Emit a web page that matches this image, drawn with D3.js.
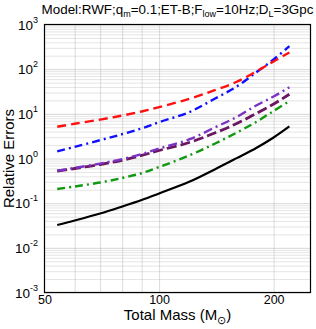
<!DOCTYPE html>
<html>
<head>
<meta charset="utf-8">
<script src="https://cdn.jsdelivr.net/npm/d3@7"></script>
<style>
  body { margin: 0; background: #fff; }
  svg { display: block; font-family: "Liberation Sans", Arial, sans-serif; }
</style>
</head>
<body>
<div id="chart"></div>
<script>
var width = 316,
    height = 329;

// total mass (solar masses) at which the curves were read
var mass = [54, 60, 70, 80, 90, 100, 120, 140, 160, 180, 200, 220];

var redErr    = [5.13, 6.01, 7.43, 9.14, 11.3, 14.1, 21.7, 33.8, 52.2, 88.7, 149, 236];
var blueErr   = [1.44, 1.82, 2.57, 3.50, 4.72, 6.50, 10.9, 21.8, 40.7, 84.7, 165, 327];
var violetErr = [0.531, 0.616, 0.769, 0.97, 1.26, 1.67, 2.67, 4.94, 8.5, 15.4, 24.4, 39.5];
var plumErr   = [0.525, 0.597, 0.734, 0.912, 1.17, 1.51, 2.28, 3.72, 6.08, 10.2, 16.6, 27.5];
var greenErr  = [0.208, 0.236, 0.290, 0.366, 0.468, 0.645, 1.17, 2.14, 3.8, 6.57, 11.6, 19.2];
var blackErr  = [0.0325, 0.0409, 0.0587, 0.0843, 0.118, 0.165, 0.300, 0.57, 1.02, 1.72, 2.95, 5.21];

var xTicks = [50, 100, 200];
var xGrid = [60, 70, 80, 90, 100, 200];
var yExps = [-3, -2, -1, 0, 1, 2, 3];

var pLeft = 44.5, pRight = 310.5, pTop = 24.5, pBottom = 292.5;

var x = d3.scaleLog().domain([50, 250]).range([pLeft, pRight]);
var y = d3.scaleLog().domain([1e-3, 1e3]).range([pBottom, pTop]);

var svg = d3.select("#chart").append("svg")
  .attr("width", width)
  .attr("height", height);

// minor + major horizontal grid
var yGrid = [];
yExps.forEach(function(e) {
  if (e < 3) {
    for (var k = 1; k < 10; k++) yGrid.push(k * Math.pow(10, e));
  }
});
yGrid.push(1e3);

svg.append("g")
  .attr("transform", "translate(" + pLeft + ",0)")
  .call(d3.axisLeft(y).tickValues(yGrid).tickSize(-(pRight - pLeft)).tickFormat(""))
  .call(function(g) {
    g.select(".domain").remove();
    g.selectAll("line")
      .attr("stroke", function(d) { return Math.abs(Math.log10(d) % 1) < 1e-9 ? "#999" : "#bdbdbd"; })
      .attr("stroke-width", 0.8)
      .attr("stroke-dasharray", "1,1");
  });

svg.append("g")
  .attr("transform", "translate(0," + pBottom + ")")
  .call(d3.axisBottom(x).tickValues(xGrid).tickSize(-(pBottom - pTop)).tickFormat(""))
  .call(function(g) {
    g.select(".domain").remove();
    g.selectAll("line")
      .attr("stroke", "#a8a8a8")
      .attr("stroke-width", 0.8)
      .attr("stroke-dasharray", "1,1");
  });

// curves
var series = [
  { v: blackErr,  c: "#000000", dash: null,        w: 2.2 },
  { v: greenErr,  c: "#119911", dash: "8,4,2,4",   w: 2.4 },
  { v: plumErr,   c: "#6a1660", dash: "10,4",      w: 2.8 },
  { v: violetErr, c: "#7a33c4", dash: "9,4,2,4",   w: 2.4 },
  { v: blueErr,   c: "#1010ff", dash: "8,4,2,4",   w: 2.4 },
  { v: redErr,    c: "#ff1010", dash: "9,5",       w: 2.4 }
];

var line = d3.line()
  .x(function(d) { return x(d[0]); })
  .y(function(d) { return y(d[1]); })
  .curve(d3.curveCatmullRom);

series.forEach(function(s) {
  svg.append("path")
    .datum(mass.map(function(m, i) { return [m, s.v[i]]; }))
    .attr("fill", "none")
    .attr("stroke", s.c)
    .attr("stroke-width", s.w)
    .attr("stroke-dasharray", s.dash)
    .attr("d", line);
});

// frame
svg.append("rect")
  .attr("x", pLeft).attr("y", pTop)
  .attr("width", pRight - pLeft).attr("height", pBottom - pTop)
  .attr("fill", "none").attr("stroke", "#000").attr("stroke-width", 1.2);

// y tick labels 10^n
yExps.forEach(function(e) {
  var t = svg.append("text")
    .attr("x", 38).attr("y", y(Math.pow(10, e)) + 5)
    .attr("text-anchor", "end")
    .attr("font-size", 13.5);
  t.append("tspan").text("10");
  t.append("tspan").attr("dy", -7).attr("font-size", 9).text(e);
});

// x tick labels
svg.append("g")
  .attr("transform", "translate(0," + pBottom + ")")
  .call(d3.axisBottom(x).tickValues(xTicks).tickSize(0).tickPadding(3).tickFormat(d3.format("d")))
  .call(function(g) {
    g.select(".domain").remove();
    g.selectAll("text").attr("font-size", 12.5).attr("fill", "#000")
      .attr("font-family", "Liberation Sans, Arial, sans-serif");
  });

// axis titles
var xl = svg.append("text")
  .attr("x", (pLeft + pRight) / 2).attr("y", 320)
  .attr("text-anchor", "middle")
  .attr("font-size", 15);
xl.append("tspan").text("Total Mass (M");
xl.append("tspan").attr("dy", 4).attr("font-size", 11).text("\u2299");
xl.append("tspan").attr("dy", -4).text(")");

svg.append("text")
  .attr("transform", "translate(14," + ((pTop + pBottom) / 2) + ") rotate(-90)")
  .attr("text-anchor", "middle")
  .attr("font-size", 15)
  .text("Relative Errors");

// title
var tt = svg.append("text")
  .attr("x", (pLeft + pRight) / 2).attr("y", 14)
  .attr("text-anchor", "middle")
  .attr("font-size", 13.4);
var parts = [["Model:RWF;q", 0], ["m", 1], ["=0.1;ET-B;F", 0], ["low", 1], ["=10Hz;D", 0], ["L", 1], ["=3Gpc", 0]];
var lastSub = 0;
parts.forEach(function(p) {
  var dy = (p[1] - lastSub) * 3;
  tt.append("tspan")
    .attr("dy", dy)
    .attr("font-size", p[1] ? 9 : 13.4)
    .text(p[0]);
  lastSub = p[1];
});
</script>
</body>
</html>
